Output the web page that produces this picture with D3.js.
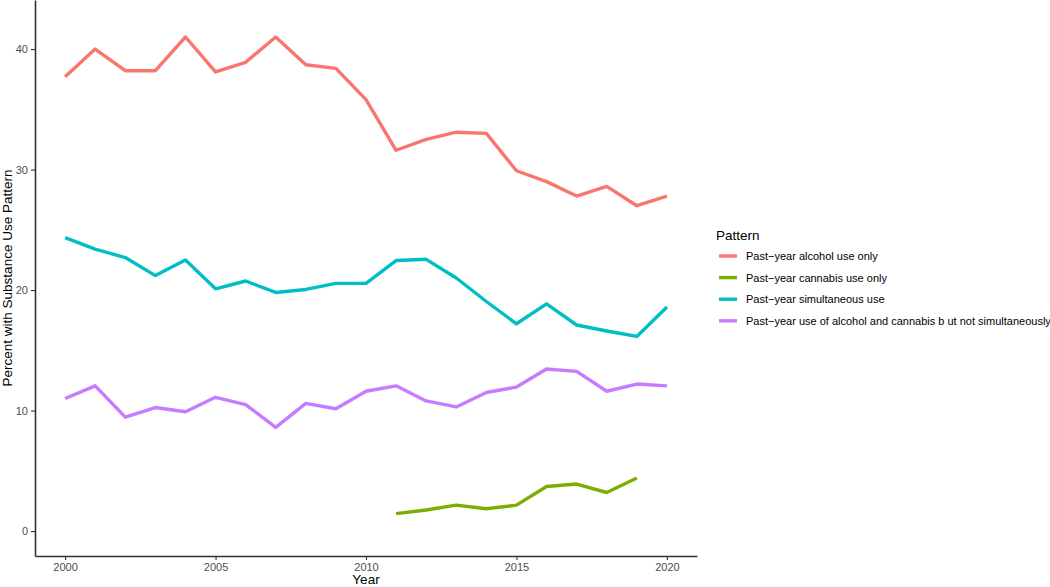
<!DOCTYPE html>
<html>
<head>
<meta charset="utf-8">
<title>Substance use pattern</title>
<style>
  body { margin: 0; background: #fff; }
  text { font-family: "Liberation Sans", Arial, sans-serif; }
</style>
</head>
<body>
<svg width="1050" height="587"></svg>
<script src="https://d3js.org/d3.v7.min.js"></script>
<script>
// data
var years = d3.range(2000, 2021);
var alcoholOnly = [37.7, 40.0, 38.2, 38.2, 41.0, 38.1, 38.9, 41.0, 38.7, 38.4, 35.8,
                   31.6, 32.5, 33.1, 33.0, 29.9, 29.0, 27.8, 28.6, 27.0, 27.8];
var cannabisYears = d3.range(2011, 2020);
var cannabisOnly = [1.45, 1.75, 2.15, 1.85, 2.15, 3.7, 3.9, 3.2, 4.4];
var simultaneous = [24.35, 23.4, 22.7, 21.2, 22.5, 20.1, 20.75, 19.8, 20.05, 20.55, 20.55,
                    22.45, 22.55, 21.0, 19.05, 17.2, 18.85, 17.1, 16.6, 16.15, 18.6];
var notSimultaneous = [11.0, 12.05, 9.45, 10.25, 9.9, 11.1, 10.5, 8.6, 10.6, 10.15, 11.6,
                       12.05, 10.8, 10.3, 11.5, 11.95, 13.45, 13.25, 11.6, 12.2, 12.05];

var seriesNames = ["Past\u2212year alcohol use only", "Past\u2212year cannabis use only",
                   "Past\u2212year simultaneous use",
                   "Past\u2212year use of alcohol and cannabis b ut not simultaneously"];
var colors = ["#F8766D", "#7CAE00", "#00BFC4", "#C77CFF"];
var xTicks = [2000, 2005, 2010, 2015, 2020];
var yTicks = [0, 10, 20, 30, 40];

var series = [
  { name: seriesNames[0], color: colors[0], pts: years.map(function(y, i) { return [y, alcoholOnly[i]]; }) },
  { name: seriesNames[1], color: colors[1], pts: cannabisYears.map(function(y, i) { return [y, cannabisOnly[i]]; }) },
  { name: seriesNames[2], color: colors[2], pts: years.map(function(y, i) { return [y, simultaneous[i]]; }) },
  { name: seriesNames[3], color: colors[3], pts: years.map(function(y, i) { return [y, notSimultaneous[i]]; }) }
];

var svg = d3.select("svg");
var plotLeft = 35, plotRight = 697, plotTop = 0, plotBottom = 556;

var x = d3.scaleLinear().domain([1999, 2021]).range([plotLeft, plotRight]);
var y = d3.scaleLinear().domain([-2.07, 44.07]).range([plotBottom, plotTop]);

// lines
var line = d3.line().x(function(d) { return x(d[0]); }).y(function(d) { return y(d[1]); });
svg.selectAll("path.series")
  .data(series)
  .enter()
  .append("path")
  .attr("class", "series")
  .attr("d", function(d) { return line(d.pts); })
  .attr("fill", "none")
  .attr("stroke", function(d) { return d.color; })
  .attr("stroke-width", 3.4)
  .attr("stroke-linejoin", "round");

// axes
var xAxis = svg.append("g")
  .attr("transform", "translate(0," + plotBottom + ")")
  .call(d3.axisBottom(x).tickValues(xTicks).tickSizeInner(4).tickSizeOuter(0).tickPadding(3).tickFormat(d3.format("d")));
var yAxis = svg.append("g")
  .attr("transform", "translate(" + plotLeft + ",0)")
  .call(d3.axisLeft(y).tickValues(yTicks).tickSizeInner(4).tickSizeOuter(0).tickPadding(3));

[xAxis, yAxis].forEach(function(ax) {
  ax.select(".domain").attr("stroke", "#333").attr("stroke-width", 1.6);
  ax.selectAll(".tick line").attr("stroke", "#333").attr("stroke-width", 1.1);
  ax.selectAll(".tick text")
    .attr("fill", "#4d4d4d")
    .style("font-size", "11px")
    .style("font-family", "'Liberation Sans', Arial, sans-serif");
});

// axis titles
svg.append("text")
  .attr("x", x(2010))
  .attr("y", 584)
  .attr("text-anchor", "middle")
  .style("font-size", "13.5px")
  .text("Year");

svg.append("text")
  .attr("transform", "translate(12," + ((plotTop + plotBottom) / 2) + ") rotate(-90)")
  .attr("text-anchor", "middle")
  .style("font-size", "13.5px")
  .text("Percent with Substance Use Pattern");

// legend
var legend = svg.append("g").attr("transform", "translate(716,0)");
legend.append("text")
  .attr("x", 0)
  .attr("y", 240)
  .style("font-size", "13.5px")
  .text("Pattern");

var item = legend.selectAll("g.item")
  .data(series)
  .enter()
  .append("g")
  .attr("class", "item")
  .attr("transform", function(d, i) { return "translate(0," + (256 + i * 21.6) + ")"; });

item.append("line")
  .attr("x1", 3).attr("x2", 21)
  .attr("stroke", function(d) { return d.color; })
  .attr("stroke-width", 3.4);

item.append("text")
  .attr("x", 30)
  .attr("y", 4)
  .style("font-size", "11px")
  .text(function(d) { return d.name; });
</script>
</body>
</html>
